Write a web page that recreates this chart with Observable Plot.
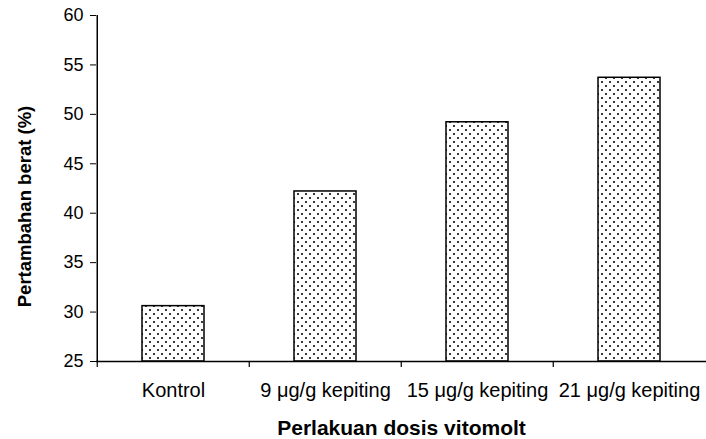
<!DOCTYPE html>
<html><head><meta charset="utf-8">
<script src="https://cdn.jsdelivr.net/npm/d3@7"></script>
<script src="https://cdn.jsdelivr.net/npm/@observablehq/plot@0.6"></script>
<style>body{margin:0;background:#fff} svg{font-family:"Liberation Sans",Arial,sans-serif}</style>
</head><body><div id="chart"></div>
<script>
const categories = ["Kontrol", "9 μg/g kepiting", "15 μg/g kepiting", "21 μg/g kepiting"];
const values = [30.6, 42.2, 49.2, 53.7];
const yTicks = [25, 30, 35, 40, 45, 50, 55, 60];
const xTitle = "Perlakuan dosis vitomolt";
const yTitle = "Pertambahan berat (%)";

const data = categories.map((c, i) => ({c, v: values[i]}));
const W = 706, H = 439, mL = 96, mR = 0, mT = 15, mB = 78;
const step = (W - mL - mR) / categories.length;
const font = '"Liberation Sans", Arial, sans-serif';

const chart = Plot.plot({
  width: W, height: H, marginLeft: mL, marginRight: mR, marginTop: mT, marginBottom: mB,
  style: {fontSize: "19px", fontFamily: font, color: "#000", background: "#fff", overflow: "visible"},
  x: {type: "band", domain: categories, padding: 0},
  y: {domain: [25, 60]},
  marks: [
    Plot.barY(data, {x: "c", y1: 25, y2: "v", fill: "url(#dots)", stroke: "#000", strokeWidth: 1.5, insetLeft: 45, insetRight: 45}),
    Plot.ruleY([25], {stroke: "#000", strokeWidth: 1.5}),
    Plot.ruleX([categories[0]], {dx: -step / 2, stroke: "#000", strokeWidth: 1.5}),
    Plot.ruleX(categories, {x: d => d, dx: -step / 2, y1: 25, y2: 25, insetBottom: -6, stroke: "#000", strokeWidth: 1.2}),
    Plot.axisY({ticks: yTicks, tickSize: 6, tickPadding: 7, label: null, stroke: "#000", strokeOpacity: 1, fontSize: 18}),
    Plot.axisX({tickSize: 0, tickPadding: 21, label: null, fontSize: 20}),
    Plot.text([xTitle], {frameAnchor: "bottom", dy: 59, lineAnchor: "top", fontWeight: "bold", fontSize: 21}),
    Plot.text([yTitle], {frameAnchor: "left", textAnchor: "middle", dx: -71.5, dy: 18, rotate: -90, fontWeight: "bold", fontSize: 18.5})
  ]
});

const ns = "http://www.w3.org/2000/svg";
const defs = document.createElementNS(ns, "defs");
const pat = document.createElementNS(ns, "pattern");
pat.setAttribute("id", "dots");
pat.setAttribute("patternUnits", "userSpaceOnUse");
pat.setAttribute("width", 8);
pat.setAttribute("height", 8);
const bg = document.createElementNS(ns, "rect");
bg.setAttribute("width", 8); bg.setAttribute("height", 8); bg.setAttribute("fill", "#fff");
pat.appendChild(bg);
[[1, 1], [5, 5]].forEach(([px, py]) => {
  const r = document.createElementNS(ns, "rect");
  r.setAttribute("x", px); r.setAttribute("y", py);
  r.setAttribute("width", 2); r.setAttribute("height", 2);
  r.setAttribute("fill", "#3a3a3a");
  pat.appendChild(r);
});
defs.appendChild(pat);
chart.insertBefore(defs, chart.firstChild);
document.getElementById("chart").appendChild(chart);
</script>
</body></html>
